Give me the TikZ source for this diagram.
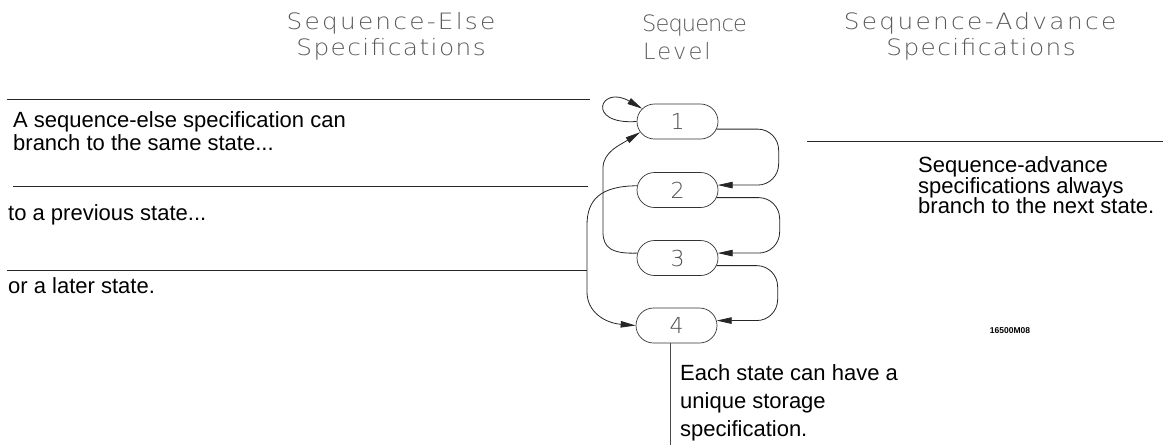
\documentclass[tikz,border=0pt]{standalone}
\usepackage{fontspec}
\setmainfont{Liberation Sans}
\newfontfamily\hdrfont{DejaVu Sans ExtraLight}
\newfontfamily\hdrwide[FakeStretch=1.1]{DejaVu Sans ExtraLight}
\usetikzlibrary{shapes.misc,arrows.meta}
\begin{document}
\begin{tikzpicture}[x=1pt,y=-1pt,
  hdr/.style={font=\hdrfont\fontsize{22.5}{26}\selectfont, text=black!65, inner sep=0pt},
  hdrw/.style={font=\hdrwide\fontsize{22.5}{26}\selectfont, text=black!65, inner sep=0pt},
  body/.style={font=\fontsize{22}{22}\selectfont, inner sep=0pt, anchor=base west},
  state/.style={rounded rectangle, draw=black!80, line width=0.7pt, minimum width=81pt, minimum height=35pt, inner sep=0pt, font=\hdrfont\fontsize{22}{22}\selectfont, text=black!70},
  sep/.style={line width=0.8pt, draw=black!85},
  conn/.style={line width=0.8pt, draw=black!85},
  tip/.style={-{Triangle[length=15pt,width=6.5pt]}},
  adv/.style={conn, tip, rounded corners=21pt}
]
\path[use as bounding box] (0,0) rectangle (1163,445);

% headers
\node[hdrw, anchor=base] (h1a) at (391,29) {\addfontfeatures{LetterSpace=10}Sequence-Else};
\node[hdrw, anchor=base] (h1b) at (391,55) {\addfontfeatures{LetterSpace=6.5}Specifications};
\node[hdr, anchor=base west] (h2a) at (642,31) {\addfontfeatures{LetterSpace=-4}Sequence};
\node[hdr, anchor=base west] (h2b) at (643,59) {\addfontfeatures{LetterSpace=9}Level};
\node[hdrw, anchor=base] (h3a) at (980,29) {\addfontfeatures{LetterSpace=10.5}Sequence-Advance};
\node[hdrw, anchor=base] (h3b) at (981,55) {\addfontfeatures{LetterSpace=6.5}Specifications};

% states
\node[state] (n1) at (677.5,121.5) {1};
\node[state] (n2) at (677.5,190) {2};
\node[state] (n3) at (677.5,258) {3};
\node[state] (n4) at (676.5,325.5) {4};

% separator lines
\coordinate (L1a) at (7,99);   \coordinate (L1b) at (590,99);
\coordinate (L2a) at (13,186); \coordinate (L2b) at (588,186);
\coordinate (L3a) at (7,270);  \coordinate (L3b) at (587,270);
\coordinate (R1a) at (807,141); \coordinate (R1b) at (1163,141);
\draw[sep] (L1a) -- (L1b);
\draw[sep] (L2a) -- (L2b);
\draw[sep] (L3a) -- (L3b);
\draw[sep] (R1a) -- (R1b);

% left texts
\node[body] (t1a) at (13,127) {A sequence-else specification can};
\node[body] (t1b) at (13,150) {branch to the same state...};
\node[body] (t2) at (8,220) {to a previous state...};
\node[body] (t3) at (8,293) {or a later state.};

% right texts
\node[body] (r1) at (918,172) {Sequence-advance};
\node[body] (r2) at (918,193) {specifications always};
\node[body] (r3) at (918,213) {branch to the next state.};

% storage text
\node[body] (s1) at (680,380) {Each state can have a};
\node[body] (s2) at (680,408) {unique storage};
\node[body] (s3) at (680,436) {specification.};
\coordinate (st) at (670,445);
\draw[conn, line width=0.6pt, black!70] (n4.south -| st) -- (st);

% figure label
\node[font=\fontsize{8.5}{9}\selectfont\bfseries, inner sep=0pt] (fig) at (1010,331) {16500M08};

% advance connectors
\draw[adv] (n1.-11) -- ++(62,0) |- (n2.7);
\draw[adv] (n2.-11) -- ++(63,0) |- (n3.7);
\draw[adv] (n3.-11) -- ++(61,0) |- (n4.7);

% else connectors
\draw[conn, tip] (n1.west) .. controls (585,125) and (600,84) .. (n1.160);
\draw[conn, tip] (n3.173) .. controls (612,254) and (603,248) .. (603,232) -- (603,168) .. controls (603,152) and (620,145) .. (n1.196);
\draw[conn, tip] (n2.174) .. controls (600,186) and (587,200) .. (587,225) -- (587,292) .. controls (587,312) and (605,323) .. (n4.west);
\end{tikzpicture}
\end{document}
